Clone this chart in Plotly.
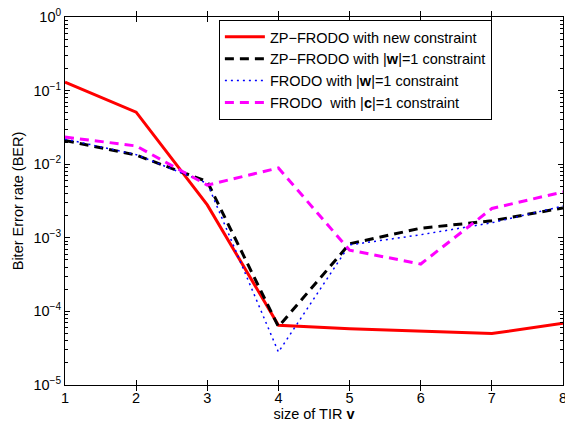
import plotly.graph_objects as go

x_vals = [1, 2, 3, 4, 5, 6, 7, 8]
zp_new = [0.13, 0.051, 0.0028, 6.5e-5, 5.8e-5, 5.4e-5, 5.0e-5, 6.9e-5]
zp_w = [0.021, 0.0133, 0.0058, 6.2e-5, 8.3e-4, 1.35e-3, 1.7e-3, 2.55e-3]
frodo_w = [0.022, 0.0135, 0.0055, 2.8e-5, 8.0e-4, 1.1e-3, 1.6e-3, 2.7e-3]
frodo_c = [0.0234, 0.0177, 0.0052, 0.0089, 6.8e-4, 4.4e-4, 2.5e-3, 4.2e-3]

names = [
    "ZP\u2212FRODO with new constraint",
    "ZP\u2212FRODO with |<b>w</b>|=1 constraint",
    "FRODO with |<b>w</b>|=1 constraint",
    "FRODO  with |<b>c</b>|=1 constraint",
]
y_tickvals = [1e-5, 1e-4, 1e-3, 1e-2, 1e-1, 1]
y_ticktext = ["10<sup>\u22125</sup>", "10<sup>\u22124</sup>", "10<sup>\u22123</sup>",
              "10<sup>\u22122</sup>", "10<sup>\u22121</sup>", "10<sup>0</sup>"]
minor_vals = [m * 10 ** e for e in range(-5, 0) for m in range(2, 10)]

fig = go.Figure()
fig.add_trace(go.Scatter(x=x_vals, y=zp_new, mode="lines", name=names[0],
                         line=dict(color="#ff0000", width=3)))
fig.add_trace(go.Scatter(x=x_vals, y=zp_w, mode="lines", name=names[1],
                         line=dict(color="#000000", width=3, dash="9px,6px")))
fig.add_trace(go.Scatter(x=x_vals, y=frodo_w, mode="lines", name=names[2],
                         line=dict(color="#0000ff", width=1.5, dash="2px,4px")))
fig.add_trace(go.Scatter(x=x_vals, y=frodo_c, mode="lines", name=names[3],
                         line=dict(color="#ff00ff", width=3, dash="9px,6px")))
# empty trace so the right-hand mirror axis (with minor ticks) is drawn
fig.add_trace(go.Scatter(x=[], y=[], yaxis="y2", showlegend=False, hoverinfo="skip"))

fig.update_layout(
    width=565, height=423,
    margin=dict(l=65, r=2, t=17, b=38, autoexpand=False),
    paper_bgcolor="white", plot_bgcolor="white",
    font=dict(family="Liberation Sans, Arial, sans-serif", color="black", size=14.5),
    legend=dict(x=0.309, y=0.992, xanchor="left", yanchor="top",
                bgcolor="white", bordercolor="black", borderwidth=1,
                font=dict(size=14.5), tracegroupgap=0, itemwidth=40),
    showlegend=True,
    yaxis2=dict(type="log", range=[-5, 0], overlaying="y", side="right",
                tickvals=y_tickvals, ticks="inside", ticklen=5, tickcolor="black",
                showticklabels=False, showgrid=False, zeroline=False,
                showline=False, automargin=False,
                minor=dict(ticks="inside", ticklen=3, tickcolor="black",
                           showgrid=False, tickvals=minor_vals)),
)
fig.update_xaxes(
    range=[1, 8], tickvals=x_vals, ticks="inside", ticklen=5, tickcolor="black",
    showline=True, linecolor="black", linewidth=1, mirror="allticks",
    showgrid=False, zeroline=False, tickfont=dict(size=14.5), automargin=False,
    ticklabeloverflow="allow",
    title=dict(text="size of TIR <b>v</b>", font=dict(size=14.5), standoff=2),
)
fig.update_layout(yaxis=dict(
    type="log", range=[-5, 0], tickvals=y_tickvals, ticktext=y_ticktext,
    ticks="inside", ticklen=5, tickcolor="black",
    showline=True, linecolor="black", linewidth=1, mirror="allticks",
    showgrid=False, zeroline=False, tickfont=dict(size=14.5), automargin=False,
    ticklabeloverflow="allow",
    minor=dict(ticks="inside", ticklen=3, tickcolor="black", showgrid=False,
               tickvals=minor_vals),
    title=dict(text="Biter Error rate (BER)", font=dict(size=14.5), standoff=6),
))
fig.write_html("out.html", config={"displayModeBar": False},
               post_script="document.body.style.margin='0';document.body.style.padding='0';document.body.style.overflow='hidden';")
